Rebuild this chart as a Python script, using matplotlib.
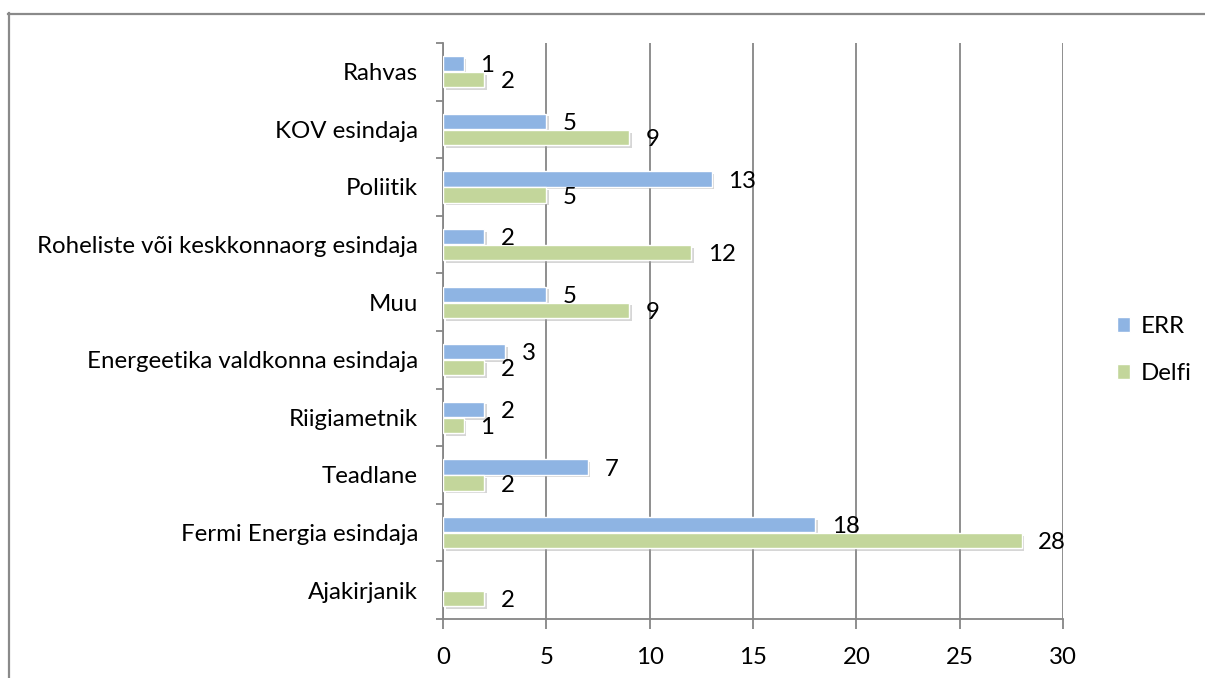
import matplotlib
matplotlib.use("Agg")
import matplotlib.pyplot as plt
import matplotlib.patheffects as pe
from matplotlib.lines import Line2D
import numpy as np

categories = ["Rahvas", "KOV esindaja", "Poliitik",
              "Roheliste või keskkonnaorg esindaja", "Muu",
              "Energeetika valdkonna esindaja", "Riigiametnik", "Teadlane",
              "Fermi Energia esindaja", "Ajakirjanik"]
err_values = [1, 5, 13, 2, 5, 3, 2, 7, 18, None]
delfi_values = [2, 9, 5, 12, 9, 2, 1, 2, 28, 2]
series_names = ["ERR", "Delfi"]
x_ticks = [0, 5, 10, 15, 20, 25, 30]

plt.rcParams['font.family'] = ['Lato', 'DejaVu Sans']
FS = 17.3
GRAY = '#868686'
BLUE = '#8EB4E3'
GREEN = '#C3D69B'

fig = plt.figure(figsize=(12.05, 6.78), dpi=100)
ax = fig.add_axes([443/1205, 1-619/678, (1063-443)/1205, (619-43)/678])

y = np.arange(len(categories))
bh = 0.265
off = 0.14
shadow = [pe.SimplePatchShadow(offset=(2.0, -2.0), shadow_rgbFace='#9a9a9a', alpha=0.4), pe.Normal()]

err_plot = [v if v is not None else 0 for v in err_values]
b1 = ax.barh(y - off, err_plot, height=bh, color=BLUE, edgecolor='white', linewidth=1.0,
             label=series_names[0], zorder=3)
b2 = ax.barh(y + off, delfi_values, height=bh, color=GREEN, edgecolor='white', linewidth=1.0,
             label=series_names[1], zorder=3)
for bars, vals in ((b1, err_values), (b2, delfi_values)):
    for rect, v in zip(bars, vals):
        if v is None:
            rect.set_visible(False)
            continue
        rect.set_path_effects(shadow)
        ax.annotate(str(v), (v, rect.get_y() + rect.get_height()/2),
                    xytext=(12, -1.5), textcoords='offset points',
                    ha='left', va='center', fontsize=FS, color='black', zorder=4)

ax.set_xlim(0, 30)
ax.set_ylim(len(categories) - 0.5, -0.5)
ax.set_xticks(x_ticks)
ax.set_xticklabels([str(t) for t in x_ticks])
ax.set_yticks(y)
ax.set_yticklabels(categories)
ax.set_yticks(np.arange(len(categories) + 1) - 0.5, minor=True)
ax.tick_params(axis='y', which='major', length=0, pad=18, labelsize=FS)
ax.tick_params(axis='y', which='minor', length=5, width=1.3, color=GRAY)
ax.tick_params(axis='x', which='major', length=7, width=1.3, color=GRAY, pad=13, labelsize=FS)

ax.grid(axis='x', color=GRAY, linewidth=1.3, zorder=0)
ax.set_axisbelow(True)
for s in ('top', 'right'):
    ax.spines[s].set_visible(False)
for s in ('left', 'bottom'):
    ax.spines[s].set_color(GRAY)
    ax.spines[s].set_linewidth(1.3)

leg = fig.legend(handles=[b1, b2], labels=series_names, loc='center left',
                 bbox_to_anchor=(1100/1205, 1-350/678), frameon=False, fontsize=FS,
                 handlelength=0.55, handleheight=0.55, handletextpad=0.45, labelspacing=1.1,
                 borderpad=0.2)
for h in leg.legend_handles:
    h.set_path_effects([])
    h.set_edgecolor('white')

# outer chart border (top and left)
fig.add_artist(Line2D([8/1205, 1204/1205], [1-13.5/678, 1-13.5/678], transform=fig.transFigure,
                      color='#8a8a8a', linewidth=1.6))
fig.add_artist(Line2D([8.5/1205, 8.5/1205], [1-13/678, 0], transform=fig.transFigure,
                      color='#8a8a8a', linewidth=1.6))

fig.savefig("out.png", dpi=100)
